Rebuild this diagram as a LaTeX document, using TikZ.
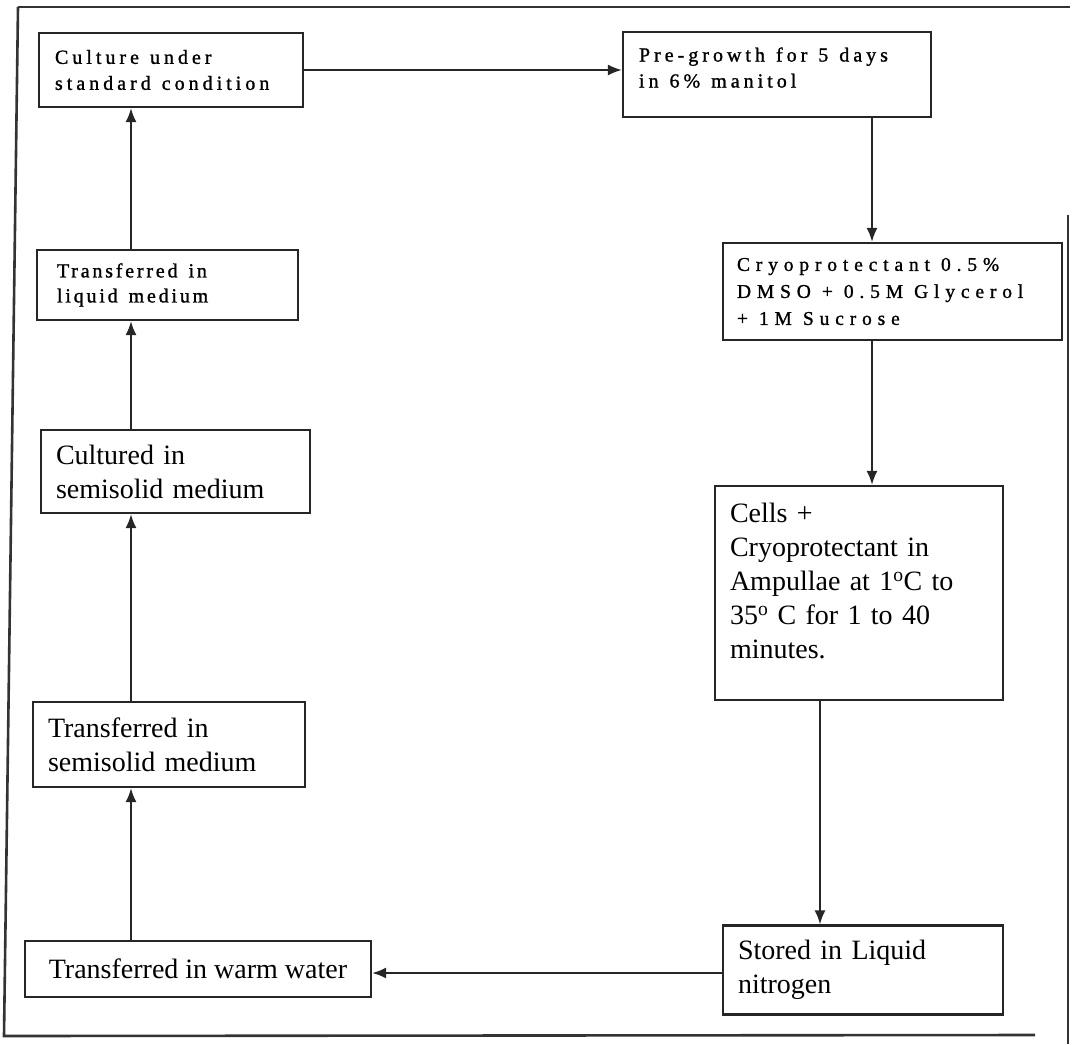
\documentclass[tikz,border=0pt]{standalone}
\usepackage{fontspec}
\setmainfont{Liberation Serif}
\newfontfamily\spacedfont[LetterSpace=20,FakeBold=1.2]{Liberation Serif}
\newfontfamily\widefont[LetterSpace=30,FakeBold=1.2]{Liberation Serif}
\newfontfamily\narrowfont[LetterSpace=14,FakeBold=1.2]{Liberation Serif}
\newcommand\wgap{\hskip 11pt\relax}
\usetikzlibrary{arrows.meta}
\tikzset{
  box/.style={draw=black!85, line width=2.2pt, align=left, inner xsep=16pt, inner ysep=2pt},
  bigtxt/.style={font=\fontsize{28}{34}\selectfont},
  smalltxt/.style={font=\spacedfont\fontsize{20}{26}\selectfont},
  widetxt/.style={font=\widefont\fontsize{19.5}{27}\selectfont},
  narrowtxt/.style={font=\narrowfont\fontsize{20}{25}\selectfont},
  conn/.style={draw=black!85, line width=2pt, -{Latex[length=14pt,width=11pt]}},
  frame/.style={draw=black!80, line width=2.6pt}
}
\begin{document}
\begin{tikzpicture}[x=1pt,y=-1pt]
\useasboundingbox (0,0) rectangle (1073,1044);
% outer frame
\draw[frame] (18,7) -- (1070,7);
\draw[frame] (18,7) -- (4,1036) -- (1035,1035);
\draw[frame] (1068,215) -- (1068,1044);
% guide coordinates for connectors
\coordinate (lx) at (131,0);
\coordinate (ax) at (872,0);
\coordinate (cx) at (820,0);
\coordinate (hy) at (0,973);
% boxes
\node[box, smalltxt, minimum width=264pt, minimum height=74pt, text width=232pt] (culture) at (171,70) {Culture\wgap under\\standard\wgap condition};
\node[box, smalltxt, minimum width=308pt, minimum height=85pt, text width=276pt] (pregrowth) at (777,74.5) {Pre-growth\wgap for\wgap 5\wgap days\\in\wgap 6\%\wgap manitol\\[-12pt]\mbox{}};
\node[box, widetxt, inner xsep=14pt, minimum width=339pt, minimum height=97pt, text width=311pt] (cryo) at (892.5,291.5) {Cryoprotectant\wgap 0.5\%\\DMSO\wgap +\wgap 0.5M\wgap Glycerol\\+\wgap 1M\wgap Sucrose};
\node[box, bigtxt, inner xsep=15pt, minimum width=288pt, minimum height=214pt, text width=258pt] (cells) at (859,593) {Cells +\\Cryoprotectant in\\Ampullae at 1\textsuperscript{o}C to\\35\textsuperscript{o} C for 1 to 40\\minutes.\\[-10pt]\mbox{}};
\node[box, bigtxt, inner xsep=15pt, minimum width=280pt, minimum height=89pt, text width=250pt] (stored) at (863,970) {Stored in Liquid\\nitrogen};
\node[box, bigtxt, inner xsep=10pt, minimum width=346pt, minimum height=56pt] (warm) at (198,969) {Transferred in warm water};
\node[box, bigtxt, inner xsep=15pt, minimum width=272pt, minimum height=85pt, text width=242pt] (semi) at (169,744.5) {Transferred in\\semisolid medium};
\node[box, bigtxt, inner xsep=15pt, minimum width=269pt, minimum height=83pt, text width=239pt] (cultured) at (175.5,471.5) {Cultured in\\semisolid medium};
\node[box, narrowtxt, inner xsep=20pt, minimum width=261pt, minimum height=70pt, text width=221pt] (liquid) at (167.5,285) {Transferred\wgap in\\liquid\wgap medium};
% connectors
\draw[conn] (culture.east) -- (culture.east -| pregrowth.west);
\draw[conn] (pregrowth.south -| ax) -- (cryo.north -| ax);
\draw[conn] (cryo.south -| ax) -- (cells.north -| ax);
\draw[conn] (cells.south -| cx) -- (stored.north -| cx);
\draw[conn] (stored.west |- hy) -- (warm.east |- hy);
\draw[conn] (warm.north -| lx) -- (semi.south -| lx);
\draw[conn] (semi.north -| lx) -- (cultured.south -| lx);
\draw[conn] (cultured.north -| lx) -- (liquid.south -| lx);
\draw[conn] (liquid.north -| lx) -- (culture.south -| lx);
\end{tikzpicture}
\end{document}
